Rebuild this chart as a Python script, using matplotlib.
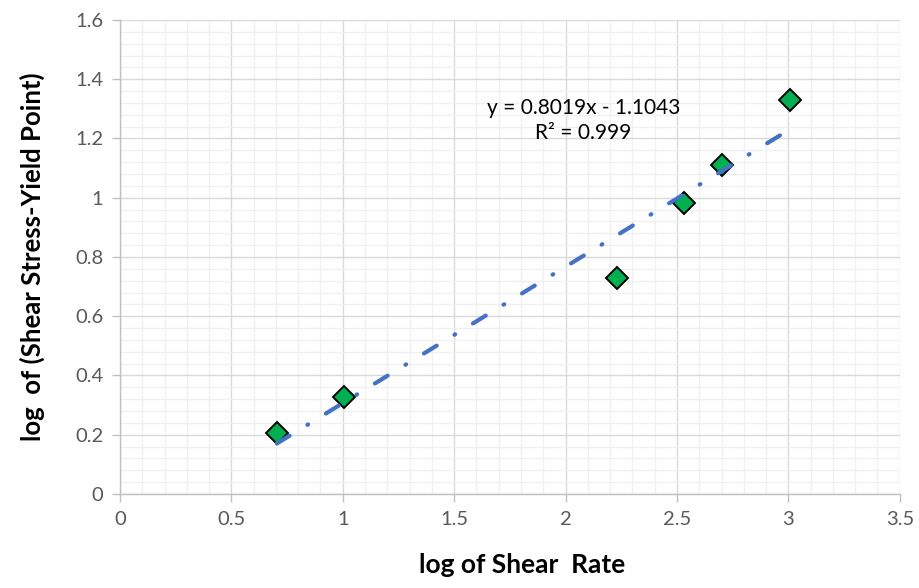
import numpy as np
import matplotlib
matplotlib.use("Agg")
import matplotlib.pyplot as plt
from matplotlib.ticker import MultipleLocator, FuncFormatter

plt.rcParams["font.family"] = ["Lato", "DejaVu Sans"]

# log of shear rate / log of (shear stress - yield point)
log_rate = [0.704, 1.005, 2.230, 2.530, 2.700, 3.006]
log_stress = [0.206, 0.327, 0.729, 0.982, 1.110, 1.329]
eq_text = "y = 0.8019x - 1.1043\nR² = 0.999"

fig = plt.figure(figsize=(9.2, 5.88), dpi=100)
ax = fig.add_axes([0.1304, 0.160, 0.8476, 0.806])

x = np.array(log_rate)
y = np.array(log_stress)

# линия тренда по точкам
k, b = np.polyfit(x, y, 1)
xt = np.array([x.min(), x.max()])
ax.plot(xt, k * xt + b, color="#4472C4", lw=3.0,
        linestyle=(0, (3.6, 5.0, 0.2, 5.0)), dash_capstyle="round", zorder=4)

ax.plot(x, y, ls="none", marker="D", ms=11, mfc="#00B050", mec="black",
        mew=1.4, zorder=3)

ax.text(2.08, 1.26, eq_text, ha="center", va="center", fontsize=15,
        color="black", linespacing=1.3)

ax.set_xlim(0, 3.5)
ax.set_ylim(0, 1.6)
ax.xaxis.set_major_locator(MultipleLocator(0.5))
ax.xaxis.set_minor_locator(MultipleLocator(0.1))
ax.yaxis.set_major_locator(MultipleLocator(0.2))
ax.yaxis.set_minor_locator(MultipleLocator(0.04))
fmt = FuncFormatter(lambda v, _: f"{v:g}")
ax.xaxis.set_major_formatter(fmt)
ax.yaxis.set_major_formatter(fmt)

ax.grid(True, which="major", color="#D9D9D9", lw=1.0, zorder=0)
ax.grid(True, which="minor", color="#F0F0F0", lw=1.0, zorder=0)
ax.set_axisbelow(True)

for s in ["top", "right"]:
    ax.spines[s].set_visible(False)
for s in ["left", "bottom"]:
    ax.spines[s].set_color("#BFBFBF")
    ax.spines[s].set_linewidth(1.0)

ax.tick_params(which="major", length=6, width=1.0, color="#BFBFBF",
               labelcolor="#595959", labelsize=14.5, pad=6)
ax.tick_params(which="minor", length=0)

ax.set_xlabel("log of Shear  Rate", fontsize=19, fontweight="bold")
ax.set_ylabel("log  of (Shear Stress-Yield Point)", fontsize=18.5,
              fontweight="bold")
ax.xaxis.set_label_coords(0.516, -0.125)
ax.yaxis.set_label_coords(-0.096, 0.5)

fig.savefig("out.png", dpi=100)
